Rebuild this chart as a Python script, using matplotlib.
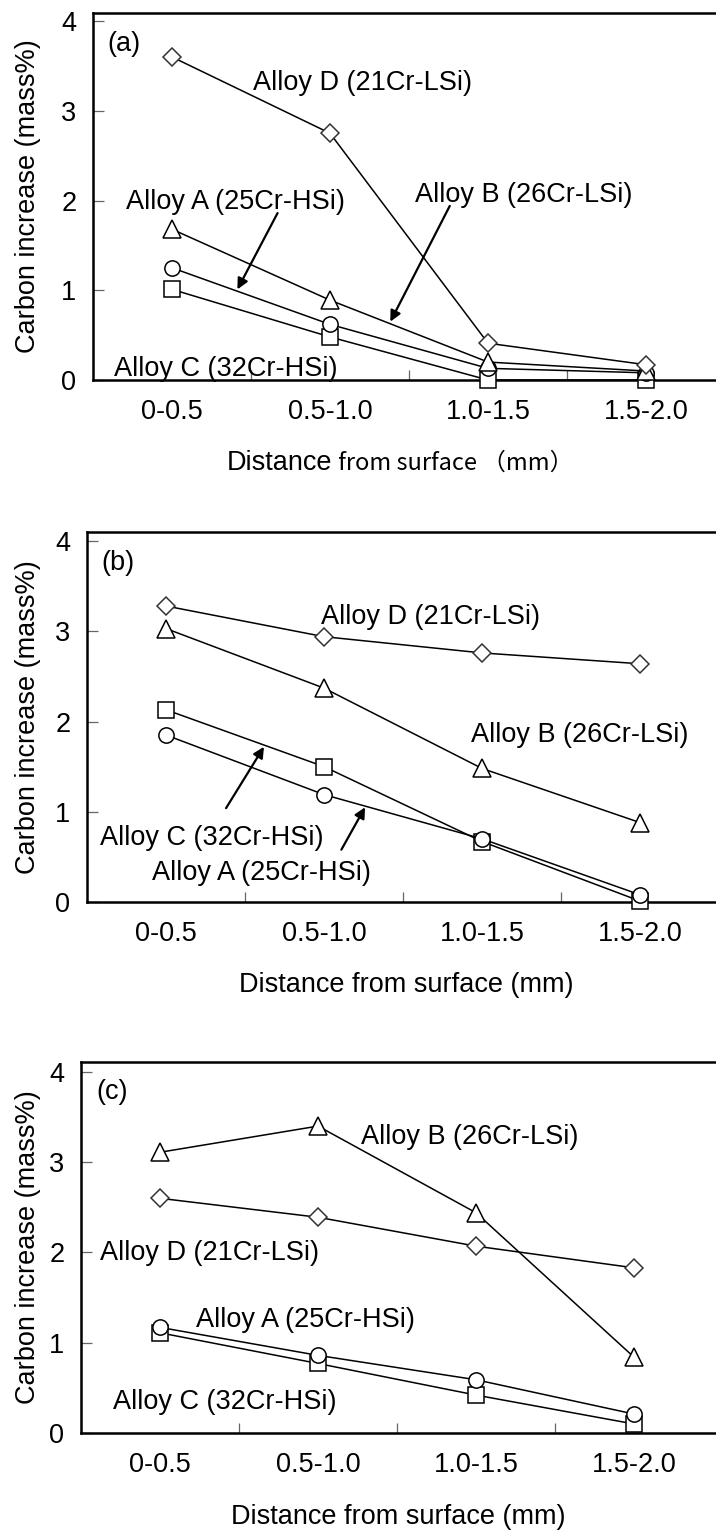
import matplotlib
matplotlib.use("Agg")
import matplotlib.pyplot as plt
from matplotlib.offsetbox import TextArea, HPacker, AnchoredOffsetbox

plt.rcParams['font.family'] = ['Liberation Sans', 'DejaVu Sans']

# ---------------- data ----------------
categories = ['0-0.5', '0.5-1.0', '1.0-1.5', '1.5-2.0']
y_ticks = [0, 1, 2, 3, 4]

a_alloyA = [1.25, 0.62, 0.13, 0.08]
a_alloyB = [1.68, 0.89, 0.20, 0.10]
a_alloyC = [1.01, 0.48, 0.00, 0.00]
a_alloyD = [3.60, 2.75, 0.41, 0.17]

b_alloyA = [1.85, 1.19, 0.70, 0.08]
b_alloyB = [3.03, 2.37, 1.48, 0.88]
b_alloyC = [2.13, 1.50, 0.67, 0.01]
b_alloyD = [3.28, 2.94, 2.76, 2.64]

c_alloyA = [1.17, 0.86, 0.59, 0.21]
c_alloyB = [3.11, 3.40, 2.44, 0.84]
c_alloyC = [1.11, 0.77, 0.42, 0.10]
c_alloyD = [2.60, 2.39, 2.07, 1.83]

label_A = 'Alloy A (25Cr-HSi)'
label_B = 'Alloy B (26Cr-LSi)'
label_C = 'Alloy C (32Cr-HSi)'
label_D = 'Alloy D (21Cr-LSi)'
ylabel = 'Carbon increase (mass%)'
xlabel = 'Distance from surface (mm)'

# ---------------- layout ----------------
W, H = 716, 1533
FS = 19.5
step_px = 158.0
markers = {'A': ('o', 11), 'B': ('^', 12.5), 'C': ('s', 11), 'D': ('D', 9)}
edge = {'A': 'black', 'B': 'black', 'C': 'black', 'D': '#333333'}

# panel: (left px, top px, bottom px, ymax)
panels = {
    'a': (93, 13, 380, 4.09),
    'b': (87, 532, 902, 4.10),
    'c': (81, 1062, 1433, 4.11),
}

fig = plt.figure(figsize=(W / 100, H / 100), dpi=100)


def make_axes(key):
    left, top, bottom, ymax = panels[key]
    right = 722
    ax = fig.add_axes([left / W, 1 - bottom / H, (right - left) / W, (bottom - top) / H])
    ax.set_xlim(-0.5, -0.5 + (right - left) / step_px)
    ax.set_ylim(0, ymax)
    ax.spines['right'].set_visible(False)
    for s in ('left', 'top', 'bottom'):
        ax.spines[s].set_linewidth(1.8)
    ax.set_yticks(y_ticks)
    ax.set_yticklabels([str(t) for t in y_ticks], fontsize=FS)
    ax.tick_params(axis='y', direction='in', length=8, width=0.9, color='#666666', pad=12)
    ax.set_xticks(range(len(categories)))
    ax.set_xticklabels(categories, fontsize=FS)
    ax.set_xticks([i + 0.5 for i in range(len(categories) - 1)], minor=True)
    ax.tick_params(axis='x', which='major', length=0, pad=14)
    ax.tick_params(axis='x', which='minor', direction='in', length=7, width=0.9, color='#666666')
    ax.set_ylabel(ylabel, fontsize=FS)
    ax.yaxis.set_label_coords((41 - left) / (right - left), 0.5)
    return ax


def plot_series(ax, data):
    x = list(range(len(categories)))
    for key in ['C', 'A', 'B', 'D']:
        m, ms = markers[key]
        ax.plot(x, data[key], marker=m, markersize=ms, markerfacecolor='white',
                markeredgecolor=edge[key], markeredgewidth=1.1, color='black',
                linewidth=1.1, clip_on=False, zorder=3)


def arrow(ax, start, end):
    ax.annotate('', xy=end, xytext=start,
                arrowprops=dict(arrowstyle='-|>', color='black', lw=1.6,
                                mutation_scale=16, shrinkA=0, shrinkB=0))


# ---------- panel (a) ----------
ax = make_axes('a')
plot_series(ax, {'A': a_alloyA, 'B': a_alloyB, 'C': a_alloyC, 'D': a_alloyD})
ax.text(-0.41, 3.75, '(a)', fontsize=FS, va='center')
ax.text(0.51, 3.31, label_D, fontsize=FS, va='center')
ax.text(-0.29, 1.98, label_A, fontsize=FS, va='center')
ax.text(1.54, 2.06, label_B, fontsize=FS, va='center')
ax.text(-0.37, 0.12, label_C, fontsize=FS, va='center', zorder=4)
arrow(ax, (0.668, 1.86), (0.414, 1.01))
arrow(ax, (1.758, 1.94), (1.382, 0.65))
# mixed-font x label
parts = xlabel.split(' ', 1)
ta1 = TextArea(parts[0], textprops=dict(fontsize=FS, family=['Liberation Sans', 'DejaVu Sans']))
ta2 = TextArea(' ' + parts[1].replace('(', '\uff08').replace(')', '\uff09'),
               textprops=dict(fontsize=17, family=['Noto Sans CJK JP', 'DejaVu Sans']))
box = HPacker(children=[ta1, ta2], align='baseline', pad=0, sep=0)
anch = AnchoredOffsetbox(loc='center', child=box, pad=0, borderpad=0, frameon=False,
                         bbox_to_anchor=(400 / W, 1 - 463 / H), bbox_transform=fig.transFigure)
fig.add_artist(anch)

# ---------- panel (b) ----------
ax = make_axes('b')
plot_series(ax, {'A': b_alloyA, 'B': b_alloyB, 'C': b_alloyC, 'D': b_alloyD})
ax.text(-0.41, 3.76, '(b)', fontsize=FS, va='center')
ax.text(0.98, 3.16, label_D, fontsize=FS, va='center')
ax.text(1.93, 1.85, label_B, fontsize=FS, va='center')
ax.text(-0.42, 0.71, label_C, fontsize=FS, va='center')
ax.text(-0.09, 0.32, label_A, fontsize=FS, va='center')
arrow(ax, (0.38, 1.04), (0.62, 1.72))
arrow(ax, (1.11, 0.58), (1.26, 1.05))
fig.text(406 / W, 1 - 985 / H, xlabel, fontsize=FS, ha='center', va='center')

# ---------- panel (c) ----------
ax = make_axes('c')
plot_series(ax, {'A': c_alloyA, 'B': c_alloyB, 'C': c_alloyC, 'D': c_alloyD})
ax.text(-0.405, 3.78, '(c)', fontsize=FS, va='center')
ax.text(1.27, 3.28, label_B, fontsize=FS, va='center')
ax.text(-0.38, 1.99, label_D, fontsize=FS, va='center')
ax.text(0.225, 1.25, label_A, fontsize=FS, va='center')
ax.text(-0.30, 0.34, label_C, fontsize=FS, va='center')
fig.text(398 / W, 1 - 1517 / H, xlabel, fontsize=FS, ha='center', va='center')

fig.savefig('out.png', dpi=100)
